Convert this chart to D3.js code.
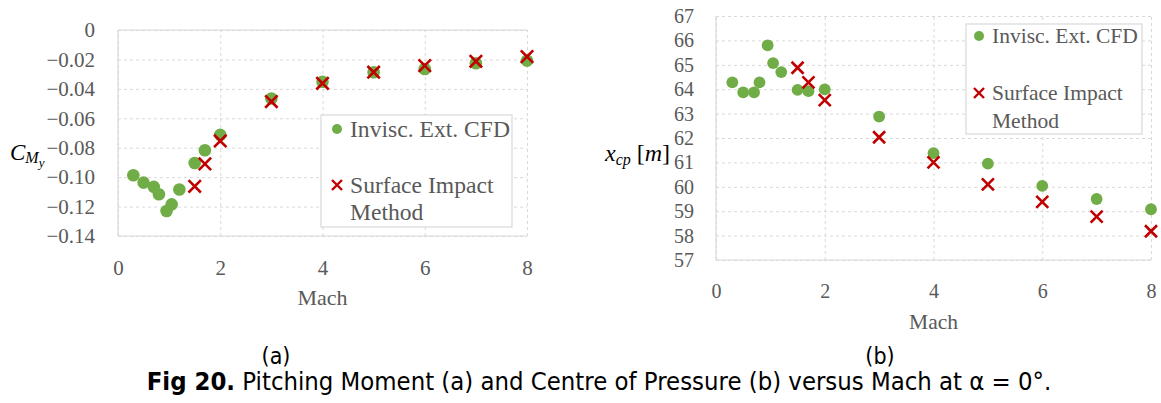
<!DOCTYPE html>
<html>
<head>
<meta charset="utf-8">
<script src="https://cdn.jsdelivr.net/npm/d3@7"></script>
<style>
  html, body { margin: 0; padding: 0; background: #fff; }
  svg { display: block; }
</style>
</head>
<body>
<svg id="fig" width="1161" height="403"></svg>
<script>
// Mach numbers of the inviscid CFD runs and of the surface-impact runs
const machCFD = [0.3, 0.5, 0.7, 0.8, 0.95, 1.05, 1.2, 1.5, 1.7, 2, 3, 4, 5, 6, 7, 8];
const machSIM = [1.5, 1.7, 2, 3, 4, 5, 6, 7, 8];

// (a) pitching moment coefficient
const cmyCFD = [-0.0987, -0.1037, -0.1066, -0.1116, -0.1230, -0.1185, -0.1084,
                -0.0904, -0.0817, -0.0713, -0.0466, -0.0352, -0.0287, -0.0265, -0.0226, -0.0208];
const cmySIM = [-0.1062, -0.0910, -0.0754, -0.0486, -0.0362, -0.0287, -0.0242, -0.0213, -0.0181];

// (b) centre of pressure position [m]
const xcpCFD = [64.28, 63.87, 63.87, 64.28, 65.80, 65.07, 64.70, 63.97, 63.92, 63.99,
                62.88, 61.38, 60.95, 60.04, 59.50, 59.08];
const xcpSIM = [64.88, 64.28, 63.55, 62.03, 61.00, 60.10, 59.38, 58.78, 58.18];

// axis ticks
const machTicks = [0, 2, 4, 6, 8];
const cmyTicks = [0, -0.02, -0.04, -0.06, -0.08, -0.10, -0.12, -0.14];
const xcpTicks = [57, 58, 59, 60, 61, 62, 63, 64, 65, 66, 67];

const seriesNames = ["Invisc. Ext. CFD", "Surface Impact", "Method"];

const GREEN = "#70ad47", RED = "#c00000", GRID = "#d9d9d9", TEXT = "#595959";
const SERIF = "'Liberation Serif', serif";
const SANS = "'DejaVu Sans', sans-serif";

const svg = d3.select("#fig");

function crossPath(x, y, h) {
  return `M${x - h},${y - h}L${x + h},${y + h}M${x - h},${y + h}L${x + h},${y - h}`;
}

function panel(cfg) {
  const x = d3.scaleLinear().domain([0, 8]).range([cfg.left, cfg.right]);
  const y = d3.scaleLinear().domain(cfg.yDomain).range([cfg.bottom, cfg.top]);
  const g = svg.append("g");
  const w = cfg.right - cfg.left, h = cfg.bottom - cfg.top;

  // dashed grid
  g.append("g")
    .attr("transform", `translate(0,${cfg.bottom})`)
    .call(d3.axisBottom(x).tickValues(machTicks).tickSize(-h).tickFormat(""))
    .call(s => s.select(".domain").remove())
    .call(s => s.selectAll("line").attr("stroke", GRID).attr("stroke-dasharray", "3,3"));
  g.append("g")
    .attr("transform", `translate(${cfg.left},0)`)
    .call(d3.axisLeft(y).tickValues(cfg.yTicks).tickSize(-w).tickFormat(""))
    .call(s => s.select(".domain").remove())
    .call(s => s.selectAll("line").attr("stroke", GRID).attr("stroke-dasharray", "3,3"));
  if (cfg.solidTop) {
    g.append("line").attr("x1", cfg.left).attr("x2", cfg.right)
      .attr("y1", cfg.top).attr("y2", cfg.top).attr("stroke", GRID);
  }

  // solid left and bottom axis lines
  g.append("line").attr("x1", cfg.left).attr("x2", cfg.left)
    .attr("y1", cfg.top).attr("y2", cfg.bottom).attr("stroke", GRID).attr("stroke-width", 1.2);
  g.append("line").attr("x1", cfg.left).attr("x2", cfg.right)
    .attr("y1", cfg.bottom).attr("y2", cfg.bottom).attr("stroke", GRID).attr("stroke-width", 1.2);

  // tick labels
  const xa = g.append("g")
    .attr("transform", `translate(0,${cfg.bottom})`)
    .call(d3.axisBottom(x).tickValues(machTicks).tickSize(0).tickPadding(cfg.xPad).tickFormat(d3.format("d")))
    .attr("font-family", SERIF).attr("font-size", cfg.tickSize);
  xa.select(".domain").remove();
  xa.selectAll("text").attr("fill", TEXT).style("font-family", SERIF);

  const ya = g.append("g")
    .attr("transform", `translate(${cfg.left},0)`)
    .call(d3.axisLeft(y).tickValues(cfg.yTicks).tickSize(0).tickPadding(cfg.yPad).tickFormat(cfg.yFormat))
    .attr("font-family", SERIF).attr("font-size", cfg.tickSize);
  ya.select(".domain").remove();
  ya.selectAll("text").attr("fill", TEXT).style("font-family", SERIF);

  // x title
  g.append("text").attr("x", x(4)).attr("y", cfg.machY)
    .attr("text-anchor", "middle").attr("font-size", cfg.titleSize)
    .attr("fill", TEXT).style("font-family", SERIF).text("Mach");

  // markers
  g.append("g").selectAll("circle").data(machCFD).join("circle")
    .attr("cx", d => x(d)).attr("cy", (d, i) => y(cfg.cfd[i]))
    .attr("r", cfg.r).attr("fill", GREEN);
  g.append("g").selectAll("path").data(machSIM).join("path")
    .attr("d", (d, i) => crossPath(x(d), y(cfg.sim[i]), cfg.cross))
    .attr("stroke", RED).attr("stroke-width", 2.6).attr("fill", "none");

  // legend
  const L = cfg.legend;
  g.append("rect").attr("x", L.x).attr("y", L.y).attr("width", L.w).attr("height", L.h)
    .attr("fill", "#fff").attr("stroke", GRID).attr("stroke-width", 1.2);
  g.append("circle").attr("cx", L.mx).attr("cy", L.row1).attr("r", 5).attr("fill", GREEN);
  g.append("path").attr("d", crossPath(L.mx, L.row2, 5))
    .attr("stroke", RED).attr("stroke-width", 2.4).attr("fill", "none");
  [L.row1, L.row2, L.row3].forEach((ry, i) => {
    g.append("text")
      .attr("transform", `translate(${L.tx},${ry}) scale(${L.sx},1)`)
      .attr("dominant-baseline", "central")
      .attr("font-size", L.fs).attr("fill", TEXT).style("font-family", SERIF)
      .text(seriesNames[i]);
  });

  return g;
}

const fmtA = d => d === 0 ? "0" : d3.format(".2f")(d);

panel({
  left: 118, right: 527, top: 30, bottom: 236,
  yDomain: [-0.14, 0], yTicks: cmyTicks, yFormat: fmtA,
  cfd: cmyCFD, sim: cmySIM, r: 6.3, cross: 6.2,
  tickSize: 21, titleSize: 22, xPad: 24, yPad: 23, machY: 305, solidTop: true,
  legend: { x: 321, y: 115, w: 191, h: 112, mx: 337, tx: 350, row1: 129, row2: 185, row3: 212.5, fs: 22.5, sx: 1.05 }
});

panel({
  left: 716, right: 1151, top: 16, bottom: 260,
  yDomain: [57, 67], yTicks: xcpTicks, yFormat: d3.format("d"),
  cfd: xcpCFD, sim: xcpSIM, r: 5.9, cross: 6,
  tickSize: 20, titleSize: 21.5, xPad: 24, yPad: 22, machY: 329, solidTop: false,
  legend: { x: 966, y: 24, w: 176, h: 110, mx: 979, tx: 992, row1: 36, row2: 93, row3: 120.5, fs: 21.5, sx: 1.0 }
});

// y-axis titles (math italic)
const tA = svg.append("text").attr("x", 10).attr("y", 160)
  .style("font-family", SERIF).attr("font-style", "italic").attr("fill", "#000");
tA.append("tspan").attr("font-size", 23).text("C");
tA.append("tspan").attr("font-size", 16).attr("dy", 3).text("M");
tA.append("tspan").attr("font-size", 13).attr("dy", 4).text("y");

const tB = svg.append("text").attr("x", 605).attr("y", 161)
  .style("font-family", SERIF).attr("fill", "#000");
tB.append("tspan").attr("font-size", 24).attr("font-style", "italic").text("x");
tB.append("tspan").attr("font-size", 16).attr("font-style", "italic").attr("dy", 4).text("cp");
tB.append("tspan").attr("font-size", 24).attr("dy", -4).text(" [");
tB.append("tspan").attr("font-size", 24).attr("font-style", "italic").text("m");
tB.append("tspan").attr("font-size", 24).text("]");

// panel letters and figure caption
svg.append("text").attr("transform", "translate(276,364) scale(0.9,1)")
  .attr("text-anchor", "middle").attr("font-size", 23)
  .style("font-family", SANS).attr("fill", "#000").text("(a)");
svg.append("text").attr("transform", "translate(880,364) scale(0.9,1)")
  .attr("text-anchor", "middle").attr("font-size", 23)
  .style("font-family", SANS).attr("fill", "#000").text("(b)");

const cap = svg.append("text").attr("transform", "translate(599,390) scale(0.915,1)")
  .attr("text-anchor", "middle").attr("font-size", 25)
  .style("font-family", SANS).attr("fill", "#000");
cap.append("tspan").attr("font-weight", "bold").text("Fig 20.");
cap.append("tspan").text(" Pitching Moment (a) and Centre of Pressure (b) versus Mach at \u03b1 = 0\u00b0.");
</script>
</body>
</html>
